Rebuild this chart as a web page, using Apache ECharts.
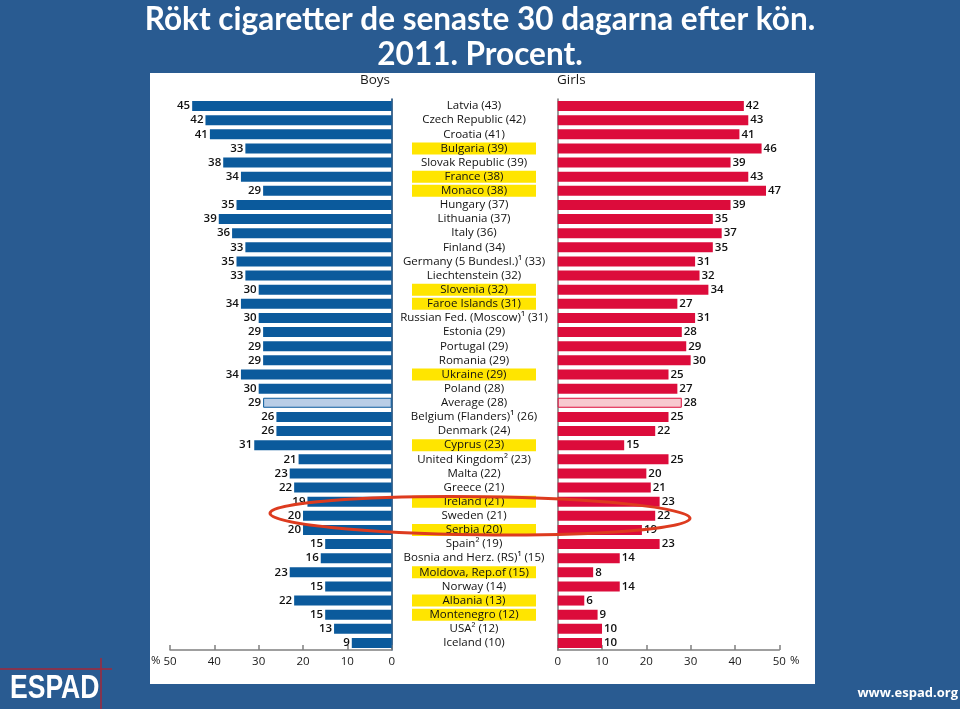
<!DOCTYPE html>
<html>
<head>
<meta charset="utf-8">
<script src="https://cdn.jsdelivr.net/npm/echarts@6/dist/echarts.min.js"></script>
<style>
html,body{margin:0;padding:0;background:#295b91;}
#c{width:960px;height:709px;}
</style>
</head>
<body>
<div id="c"></div>
<script>
var countries = ["Latvia (43)","Czech Republic (42)","Croatia (41)","Bulgaria (39)","Slovak Republic (39)","France (38)","Monaco (38)","Hungary (37)","Lithuania (37)","Italy (36)","Finland (34)","Germany (5 Bundesl.)\u00b9 (33)","Liechtenstein (32)","Slovenia (32)","Faroe Islands (31)","Russian Fed. (Moscow)\u00b9 (31)","Estonia (29)","Portugal (29)","Romania (29)","Ukraine (29)","Poland (28)","Average (28)","Belgium (Flanders)\u00b9 (26)","Denmark (24)","Cyprus (23)","United Kingdom\u00b2 (23)","Malta (22)","Greece (21)","Ireland (21)","Sweden (21)","Serbia (20)","Spain\u00b2 (19)","Bosnia and Herz. (RS)\u00b9 (15)","Moldova, Rep.of (15)","Norway (14)","Albania (13)","Montenegro (12)","USA\u00b2 (12)","Iceland (10)"];
var boys  = [45,42,41,33,38,34,29,35,39,36,33,35,33,30,34,30,29,29,29,34,30,29,26,26,31,21,23,22,19,20,20,15,16,23,15,22,15,13,9];
var girls = [42,43,41,46,39,43,47,39,35,37,35,31,32,34,27,31,28,29,30,25,27,28,25,22,15,25,20,21,23,22,19,23,14,8,14,6,9,10,10];
var highlighted = ["Bulgaria (39)","France (38)","Monaco (38)","Slovenia (32)","Faroe Islands (31)","Ukraine (29)","Cyprus (23)","Ireland (21)","Serbia (20)","Moldova, Rep.of (15)","Albania (13)","Montenegro (12)"];
var averageName = "Average (28)";
var markedName = "Sweden (21)";
var xTicks = [0,10,20,30,40,50];

var BLUE = '#0b5a9c', RED = '#dc0c3b';
var FONT = 'Open Sans';
var chart = echarts.init(document.getElementById('c'));

var TOP = 99, HEIGHT = 551;
function valueAxis(grid, inverse){
  return {
    type:'value', gridIndex:grid, min:0, max:50, interval:10, inverse:inverse,
    axisLine:{show:true, lineStyle:{color:'#808080', width:1.5}},
    axisTick:{show:true, inside:true, length:5, lineStyle:{color:'#808080', width:1.5}},
    axisLabel:{color:'#1a1a1a', fontSize:11.5, fontFamily:FONT, fontWeight:500, margin:6},
    splitLine:{show:false}
  };
}
function catAxis(grid, lineColor, show){
  return {
    type:'category', gridIndex:grid, data:countries, inverse:true,
    axisLine:{show:show, lineStyle:{color:lineColor, width:1.5}},
    axisTick:{show:false}, axisLabel:{show:false}, splitLine:{show:false}
  };
}

var boysData = boys.map(function(v,i){
  if (countries[i] === averageName) return {value:v, itemStyle:{color:'#b9cde6', borderColor:BLUE, borderWidth:1}};
  return v;
});
var girlsData = girls.map(function(v,i){
  if (countries[i] === averageName) return {value:v, itemStyle:{color:'#f7c9cf', borderColor:RED, borderWidth:1}};
  return v;
});
var midData = countries.map(function(n){
  return {value:1, itemStyle:{color: highlighted.indexOf(n) >= 0 ? '#ffe500' : 'rgba(0,0,0,0)'}};
});

var valLabel = {show:true, color:'#111', fontSize:11.5, fontWeight:600, fontFamily:FONT, distance:2};

var staticGraphics = [
  {type:'rect', z:-10, shape:{x:150, y:73, width:665, height:611}, style:{fill:'#ffffff'}},
  {type:'text', left:360, top:73, style:{text:'Boys', fill:'#1a1a1a', font:'500 13.5px "Open Sans"'}},
  {type:'text', left:557, top:73, style:{text:'Girls', fill:'#1a1a1a', font:'500 13.5px "Open Sans"'}},
  {type:'text', left:151, top:655, style:{text:'%', fill:'#1a1a1a', font:'500 11.5px "Open Sans"'}},
  {type:'text', left:790, top:655, style:{text:'%', fill:'#1a1a1a', font:'500 11.5px "Open Sans"'}},
  {type:'line', shape:{x1:0, y1:669, x2:112, y2:669}, style:{stroke:'#a3273a', lineWidth:1.5}},
  {type:'line', shape:{x1:101, y1:658, x2:101, y2:709}, style:{stroke:'#a3273a', lineWidth:1.5}},
  {type:'text', x:10, y:672, scaleX:0.78, style:{text:'ESPAD', fill:'#fff', font:'bold 34px "Liberation Sans", Arial, sans-serif'}},
  {type:'text', right:2, top:687, style:{text:'www.espad.org', fill:'#fff', font:'bold 13px "Open Sans"'}}
];

chart.setOption({
  backgroundColor:'#295b91',
  animation:false,
  title:{
    text:'Rökt cigaretter de senaste 30 dagarna efter kön.\n2011. Procent.',
    left:'center', top:-3,
    textStyle:{color:'#fff', fontSize:31.5, fontWeight:'bold', fontFamily:'Lato', lineHeight:35}
  },
  grid:[
    {left:170, width:221.7, top:TOP, height:HEIGHT},
    {left:557.7, width:221.6, top:TOP, height:HEIGHT},
    {left:412, width:124, top:TOP, height:HEIGHT}
  ],
  xAxis:[
    valueAxis(0,true),
    valueAxis(1,false),
    {type:'value', gridIndex:2, min:0, max:1, show:false}
  ],
  yAxis:[
    catAxis(0,'#0d3d6b',true),
    catAxis(1,'#7a7a7a',true),
    catAxis(2,'#000',false)
  ],
  graphic:staticGraphics,
  series:[
    {type:'bar', xAxisIndex:0, yAxisIndex:0, data:boysData, barWidth:10, itemStyle:{color:BLUE},
     label:Object.assign({position:'left'}, valLabel)},
    {type:'bar', xAxisIndex:1, yAxisIndex:1, data:girlsData, barWidth:10, itemStyle:{color:RED},
     label:Object.assign({position:'right'}, valLabel)},
    {type:'bar', xAxisIndex:2, yAxisIndex:2, data:midData, barWidth:12, silent:true,
     label:{show:true, position:'inside', color:'#111', fontSize:11.5, fontWeight:500, fontFamily:FONT,
            formatter:function(p){return p.name;}}}
  ]
});

// annotation ellipse around the marked row
var yc = chart.convertToPixel({yAxisIndex:2}, markedName);
chart.setOption({
  graphic: staticGraphics.concat([
    {type:'ellipse', z:100, x:480, y:yc, rotation:-0.012,
     shape:{cx:0, cy:0, rx:210, ry:19}, style:{fill:'none', stroke:'#dd3b1f', lineWidth:3}}
  ])
}, {replaceMerge:['graphic']});
</script>
</body>
</html>
